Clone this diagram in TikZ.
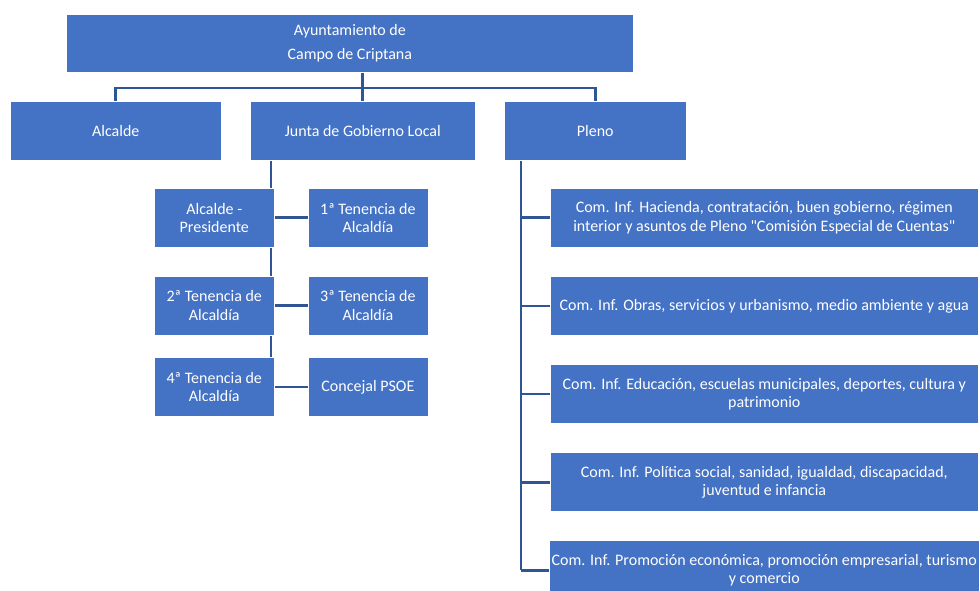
\documentclass[tikz,border=0pt]{standalone}
\usepackage{fontspec}
\setmainfont{Carlito}[Ligatures=TeXOff]
\usetikzlibrary{positioning, backgrounds}
\definecolor{boxblue}{RGB}{68,114,196}
\definecolor{lineblue}{RGB}{47,85,151}

\begin{document}
\begin{tikzpicture}[
            x = 1pt, y = -1pt, % pixel units, y going down
            node distance = 28pt, % gap between stacked boxes
            link/.style = {draw = lineblue, line width = 2.8pt} % connector style
        ]

        \tikzstyle{unit}=[
            rectangle,
            draw = white,
            line width = 0.6pt,
            fill = boxblue,
            text = white,
            align = center,
            inner sep = 2pt,
            font = \fontsize{16}{18.5}\selectfont
        ]
        \tikzstyle{small}=[unit, minimum width = 120pt, minimum height = 59pt]
        \tikzstyle{com}=[unit, minimum width = 428pt, minimum height = 59pt]

        \useasboundingbox (0,0) rectangle (980,590);

        \node[unit, anchor = north west, minimum width = 567pt, minimum height = 58pt, font = \fontsize{16}{24}\selectfont] (ayto) at (66,14) {Ayuntamiento de\\Campo de Criptana};
        \node[unit, anchor = north west, minimum width = 211pt, minimum height = 59pt] (alc) at (10,101) {Alcalde};
        \node[unit, anchor = north west, minimum width = 225pt, minimum height = 59pt] (junta) at (250,101) {Junta de Gobierno Local};
        \node[unit, anchor = north west, minimum width = 182pt, minimum height = 59pt] (pleno) at (504,101) {Pleno};

        \node[small, anchor = north west] (t0) at (154,188) {Alcalde -\\Presidente};
        \node[small, right = 33pt of t0] (t1) {1ª Tenencia de\\Alcaldía};
        \node[small, below = 28pt of t0] (t2) {2ª Tenencia de\\Alcaldía};
        \node[small, right = 33pt of t2] (t3) {3ª Tenencia de\\Alcaldía};
        \node[small, below = 22pt of t2] (t4) {4ª Tenencia de\\Alcaldía};
        \node[small, right = 33pt of t4] (t5) {Concejal PSOE};

        \node[com, anchor = north west] (c1) at (550,188) {Com. Inf. Hacienda, contratación, buen gobierno, régimen\\interior y asuntos de Pleno "Comisión Especial de Cuentas"};
        \node[com, below = 28.5pt of c1] (c2) {Com. Inf. Obras, servicios y urbanismo, medio ambiente y agua};
        \node[com, below = 28.5pt of c2] (c3) {Com. Inf. Educación, escuelas municipales, deportes, cultura y\\patrimonio};
        \node[com, below = 28.5pt of c3] (c4) {Com. Inf. Política social, sanidad, igualdad, discapacidad,\\juventud e infancia};
        \node[com, below = 28.5pt of c4] (c5) {Com. Inf. Promoción económica, promoción empresarial, turismo\\y comercio};

        \begin{scope}[on background layer]
            \coordinate (bus) at (0,88);
            \coordinate (jt) at (271,160);
            \coordinate (pt) at (521,160);
            \draw[link] (ayto.south -| junta.north) -- (junta.north);
            \draw[link] (alc.north) |- (bus -| junta.north) -| (pleno.north);
            \draw[link] (jt) -- (jt |- t5.west);
            \foreach \n in {t1, t3, t5}
                \draw[link] (jt |- \n.west) -- (\n.west);
            \draw[link] (pt) -- (pt |- c5.west);
            \foreach \n in {c1, c2, c3, c4, c5}
                \draw[link] (pt |- \n.west) -- (\n.west);
        \end{scope}
    \end{tikzpicture}
\end{document}
